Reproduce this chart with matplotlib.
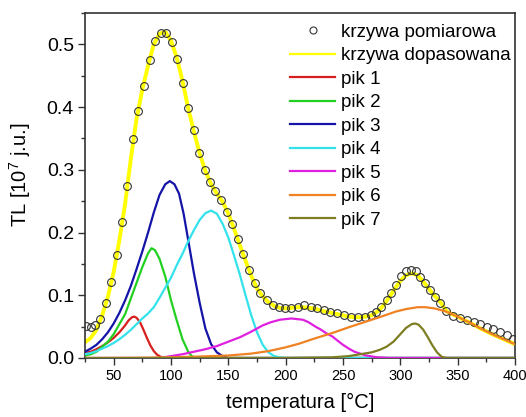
import matplotlib
matplotlib.use("Agg")
import matplotlib.pyplot as plt
from matplotlib.ticker import MultipleLocator, FormatStrFormatter

plt.rcParams['font.family'] = ['Liberation Sans', 'DejaVu Sans']
plt.rcParams['mathtext.fontset'] = 'custom'
plt.rcParams['mathtext.rm'] = 'Liberation Sans'
plt.rcParams['mathtext.it'] = 'Liberation Sans:italic'

# measured glow curve (circles)
t_meas = [26, 30, 34, 38, 43, 47.5, 52.5, 57.5, 62, 66.7, 71.5, 76.3, 81.3, 86, 91, 95.6,
          100.5, 105.5, 110.5, 115, 120, 124.6, 129.4, 134.2, 138.8, 143.5, 148.8, 153.5,
          158, 163, 168, 173, 178, 183.5, 189, 194, 199.5, 205, 210.5, 216, 222, 227.5,
          233, 239, 245, 251, 257, 263, 269, 274.5, 279, 283.5, 288, 292, 296.5, 301, 305,
          309.5, 313.5, 317.5, 321.5, 326, 330, 334.5, 340, 346, 352, 358, 364, 369.5,
          375.5, 381, 387, 393, 398]
tl_meas = [0.051, 0.049, 0.053, 0.062, 0.087, 0.121, 0.165, 0.217, 0.275, 0.349, 0.394,
           0.433, 0.475, 0.506, 0.518, 0.518, 0.504, 0.476, 0.438, 0.398, 0.363, 0.327,
           0.299, 0.280, 0.266, 0.252, 0.233, 0.213, 0.190, 0.166, 0.141, 0.119, 0.103,
           0.092, 0.084, 0.081, 0.079, 0.080, 0.082, 0.084, 0.081, 0.079, 0.076, 0.073,
           0.071, 0.068, 0.066, 0.065, 0.065, 0.068, 0.074, 0.082, 0.093, 0.104, 0.117,
           0.131, 0.139, 0.140, 0.139, 0.129, 0.119, 0.108, 0.097, 0.087, 0.075, 0.067,
           0.064, 0.061, 0.058, 0.054, 0.050, 0.046, 0.041, 0.036, 0.031]

# fitted curve
t_fit = [25, 30, 35, 40, 45, 50, 55, 60, 65, 70, 75, 80, 85, 90, 95, 100, 105, 110, 115,
         120, 125, 130, 135, 140, 145, 150, 155, 160, 165, 170, 175, 180, 185, 190, 195,
         200, 205, 210, 215, 220, 225, 230, 235, 240, 245, 250, 255, 260, 265, 270, 275,
         280, 285, 290, 295, 300, 305, 310, 315, 320, 325, 330, 335, 340, 345, 350, 355,
         360, 370, 380, 390, 400]
tl_fit = [0.025, 0.032, 0.045, 0.068, 0.098, 0.137, 0.188, 0.246, 0.318, 0.382, 0.428,
          0.466, 0.500, 0.517, 0.520, 0.506, 0.479, 0.442, 0.398, 0.361, 0.326, 0.298,
          0.277, 0.262, 0.249, 0.230, 0.206, 0.180, 0.155, 0.131, 0.111, 0.098, 0.089,
          0.083, 0.080, 0.079, 0.080, 0.081, 0.081, 0.080, 0.079, 0.076, 0.074, 0.072,
          0.070, 0.068, 0.066, 0.065, 0.065, 0.066, 0.068, 0.074, 0.083, 0.096, 0.110,
          0.123, 0.132, 0.135, 0.132, 0.122, 0.110, 0.099, 0.089, 0.075, 0.070, 0.066,
          0.061, 0.057, 0.047, 0.038, 0.030, 0.022]

# component peaks
t_p1 = [25, 30, 35, 40, 45, 50, 55, 60, 63, 66, 68, 70, 73, 76, 79, 82, 85, 88, 92, 96, 400]
tl_p1 = [0.008, 0.010, 0.014, 0.019, 0.025, 0.032, 0.041, 0.052, 0.060, 0.065, 0.066,
         0.064, 0.057, 0.045, 0.032, 0.020, 0.011, 0.005, 0.001, 0.0, 0.0]

t_p2 = [25, 30, 35, 40, 45, 50, 55, 60, 65, 70, 75, 80, 83, 86, 90, 95, 100, 105, 110,
        115, 118, 122, 400]
tl_p2 = [0.004, 0.006, 0.010, 0.018, 0.026, 0.038, 0.054, 0.070, 0.095, 0.120, 0.145,
         0.167, 0.175, 0.172, 0.158, 0.130, 0.092, 0.060, 0.030, 0.010, 0.003, 0.0, 0.0]

t_p3 = [25, 30, 35, 40, 45, 50, 55, 60, 65, 70, 75, 80, 85, 90, 95, 99, 103, 107, 111,
        115, 120, 125, 130, 135, 140, 145, 150, 400]
tl_p3 = [0.010, 0.015, 0.021, 0.030, 0.041, 0.055, 0.072, 0.092, 0.115, 0.142, 0.170,
         0.200, 0.232, 0.260, 0.277, 0.282, 0.277, 0.262, 0.230, 0.188, 0.135, 0.088,
         0.047, 0.022, 0.009, 0.003, 0.0, 0.0]

t_p4 = [25, 30, 35, 40, 45, 50, 55, 60, 65, 70, 75, 80, 85, 90, 95, 100, 105, 110, 115,
        120, 125, 130, 135, 140, 145, 150, 155, 160, 165, 170, 175, 180, 185, 190, 195,
        200, 400]
tl_p4 = [0.006, 0.008, 0.011, 0.015, 0.019, 0.024, 0.030, 0.037, 0.045, 0.054, 0.063,
         0.071, 0.081, 0.096, 0.112, 0.128, 0.148, 0.166, 0.186, 0.204, 0.220, 0.231,
         0.235, 0.230, 0.214, 0.192, 0.163, 0.133, 0.100, 0.068, 0.041, 0.021, 0.009,
         0.003, 0.001, 0.0, 0.0]

t_p5 = [25, 90, 100, 110, 120, 130, 140, 150, 160, 170, 180, 187, 195, 205, 215, 220,
        226, 230, 235, 241, 245, 250, 255, 260, 265, 270, 280, 290, 400]
tl_p5 = [0.0, 0.0, 0.003, 0.006, 0.010, 0.014, 0.019, 0.026, 0.033, 0.042, 0.052, 0.057,
         0.061, 0.063, 0.061, 0.057, 0.050, 0.046, 0.040, 0.034, 0.028, 0.021, 0.015,
         0.010, 0.007, 0.004, 0.001, 0.0, 0.0]

t_p6 = [25, 80, 120, 150, 170, 185, 200, 212, 225, 241, 255, 270, 285, 296, 305, 315,
        322, 330, 340, 345, 350, 355, 360, 370, 380, 390, 400]
tl_p6 = [0.0, 0.0005, 0.002, 0.004, 0.007, 0.011, 0.017, 0.023, 0.031, 0.040, 0.049,
         0.058, 0.067, 0.074, 0.078, 0.081, 0.081, 0.079, 0.074, 0.070, 0.066, 0.061,
         0.057, 0.047, 0.038, 0.030, 0.022]

t_p7 = [25, 200, 240, 255, 265, 275, 282, 288, 294, 300, 305, 310, 313, 316, 320, 324,
        328, 332, 336, 340, 400]
tl_p7 = [0.0, 0.0, 0.001, 0.003, 0.006, 0.009, 0.013, 0.018, 0.026, 0.038, 0.048, 0.054,
         0.055, 0.053, 0.045, 0.033, 0.020, 0.009, 0.002, 0.0, 0.0]

peaks = [(t_p1, tl_p1), (t_p2, tl_p2), (t_p3, tl_p3), (t_p4, tl_p4),
         (t_p5, tl_p5), (t_p6, tl_p6), (t_p7, tl_p7)]
peak_colors = ['#d81e1e', '#22d022', '#1414a8', '#33e2ea', '#e020e0', '#f08224', '#7d7d22']

fig = plt.figure(figsize=(5.26, 4.17), dpi=100)
ax = fig.add_axes([85/526, 59/417, 430/526, 345/417])

ax.plot(t_meas, tl_meas, 'o', ms=5.6, mfc='none', mec='#333333', mew=0.8,
        label='krzywa pomiarowa', zorder=3)
ax.plot(t_fit, tl_fit, color='#ffff00', lw=2.8, label='krzywa dopasowana', zorder=2)
for i, (t, v) in enumerate(peaks):
    ax.plot(t, v, color=peak_colors[i], lw=1.6, label='pik %d' % (i + 1), zorder=4)

ax.set_xlim(25, 400)
ax.set_ylim(0, 0.55)
ax.xaxis.set_major_locator(MultipleLocator(50))
ax.xaxis.set_minor_locator(MultipleLocator(25))
ax.yaxis.set_major_locator(MultipleLocator(0.1))
ax.yaxis.set_minor_locator(MultipleLocator(0.05))
ax.yaxis.set_major_formatter(FormatStrFormatter('%.1f'))
ax.tick_params(which='both', direction='out', top=False, right=False, color='#333333', width=1)
ax.tick_params(which='major', length=5)
ax.tick_params(which='minor', length=3)
ax.tick_params(axis='y', labelsize=14, pad=3)
ax.tick_params(axis='x', labelsize=10.5, pad=3)
for s in ax.spines.values():
    s.set_color('#333333')
    s.set_linewidth(1.2)

ax.set_xlabel('temperatura [°C]', fontsize=14.5, labelpad=7)
ax.set_ylabel('TL [10$^7$ j.u.]', fontsize=14.5)
ax.yaxis.set_label_coords(-0.12, 0.53)

leg = ax.legend(loc='upper right', bbox_to_anchor=(1.005, 0.988), frameon=False, fontsize=13.5,
                handlelength=2.4, handletextpad=0.3, labelspacing=0.34, borderpad=0.35,
                borderaxespad=0.0, markerscale=0.9)
leg.legend_handles[1].set_linewidth(1.6)

fig.savefig('out.png', dpi=100)
